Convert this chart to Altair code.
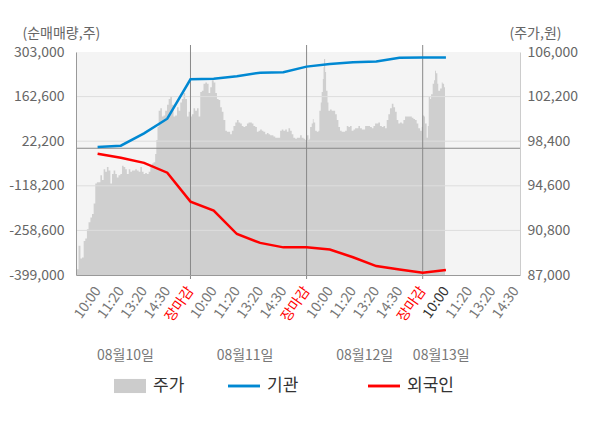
import altair as alt
import pandas as pd

FONT = "Noto Sans CJK KR"

# ---- axis labels / categories ----
tick_pos = list(range(1, 20))                      # slot index: 5 slots per trading day
tick_names = ["장마감", "10:00", "11:20", "13:20", "14:30"]   # slot % 5
current_slot = 16
day_breaks = [5, 10, 15]
date_labels = ["08월10일", "08월11일", "08월12일", "08월13일"]
date_label_pos = [2.2, 7.35, 12.5, 15.8]

left_ticks = [303000, 162600, 22200, -118200, -258600, -399000]
right_ticks = [106000, 102200, 98400, 94600, 90800, 87000]

# ---- net buying (shares) at each slot ----
flow_x = list(range(1, 17))
inst = [4000, 8000, 47000, 93000, 217000, 219000, 227000, 238000, 239000,
        257000, 265000, 271000, 273000, 285000, 286000, 286000]
foreign = [-17000, -30000, -46000, -77000, -168000, -196000, -270000, -298000,
           -312000, -312000, -319000, -343000, -371000, -382000, -392000, -383000]

# ---- stock price (won) ----
d1_x = [0.07, 0.11, 0.18, 0.26, 0.33, 0.40, 0.47, 0.54, 0.61, 0.69, 0.76, 0.83, 0.90, 0.97,
        1.04, 1.12, 1.19, 1.26, 1.33, 1.40, 1.47, 1.55, 1.62, 1.69, 1.76, 1.83, 1.90, 1.98,
        2.05, 2.12, 2.19, 2.26, 2.34, 2.41, 2.48, 2.55, 2.62, 2.69, 2.77, 2.84, 2.91, 2.98,
        3.05, 3.12, 3.20, 3.27, 3.34, 3.41, 3.48, 3.53, 3.58, 3.63, 3.70, 3.77, 3.84, 3.91, 3.99,
        4.06, 4.13, 4.20, 4.27, 4.34, 4.42, 4.49, 4.56, 4.63, 4.70, 4.77, 4.85, 4.92, 4.99]
d1_p = [87500, 87500, 89500, 88400, 88500, 89900, 90100, 90900, 91500, 91900, 92200, 93100, 94800, 94900,
        94900, 95500, 95100, 96000, 95800, 96200, 95900, 94800, 95600, 95900, 95600, 95300, 95500, 95600,
        96300, 96200, 96000, 95600, 96000, 95800, 95900, 95900, 96000, 95900, 95800, 96200, 95800, 95600,
        95700, 95600, 95800, 96300, 96500, 96600, 97300, 98500, 99600, 101000, 101200, 100500, 100600, 101000, 101500,
        102000, 102200, 101500, 100500, 100600, 101300, 101000, 101700, 102000, 102500, 102000, 100500, 100900, 101600]

d2_x = [5.02, 5.06, 5.13, 5.20, 5.28, 5.35, 5.42, 5.49, 5.56, 5.64, 5.71, 5.78, 5.85, 5.92, 6.00,
        6.07, 6.14, 6.21, 6.28, 6.35, 6.42, 6.50, 6.57, 6.64, 6.71, 6.78, 6.85, 6.93, 7.00,
        7.07, 7.14, 7.21, 7.28, 7.36, 7.43, 7.50, 7.57, 7.64, 7.71, 7.79, 7.86, 7.93, 8.00,
        8.07, 8.14, 8.22, 8.29, 8.36, 8.43, 8.50, 8.57, 8.65, 8.72, 8.79, 8.86, 8.93, 9.00,
        9.08, 9.15, 9.22, 9.29, 9.36, 9.43, 9.51, 9.58, 9.65, 9.72, 9.79, 9.87, 9.94, 9.98]
d2_p = [100500, 100700, 101200, 101000, 101200, 100500, 102600, 102700, 103300, 103400, 103300, 102500, 103000, 103600, 103400,
        102500, 102000, 101900, 101300, 100900, 100200, 99300, 99200, 99200, 99000, 99300, 99700, 100000, 100200,
        100000, 99900, 99700, 99600, 99700, 99900, 100000, 100000, 99900, 99700, 99600, 99200, 99300, 99400,
        99300, 99200, 99000, 99100, 99000, 98900, 98900, 98800, 98700, 98700, 98700, 99300, 99400, 99300,
        99400, 99200, 99500, 99300, 99000, 98700, 98600, 98700, 98700, 98900, 98700, 98600, 98500, 98600]

d3_x = [10.01, 10.08, 10.12, 10.15, 10.22, 10.27, 10.30, 10.37, 10.44, 10.51, 10.55, 10.61, 10.65,
        10.70, 10.73, 10.75, 10.80, 10.84, 10.90, 10.94, 11.01, 11.08, 11.16, 11.23, 11.30, 11.37,
        11.44, 11.51, 11.59, 11.66, 11.73, 11.80, 11.87, 11.94, 12.02, 12.09, 12.16, 12.23, 12.30,
        12.38, 12.45, 12.52, 12.59, 12.66, 12.73, 12.81, 12.88, 12.95, 13.02, 13.09, 13.16, 13.24,
        13.31, 13.38, 13.45, 13.52, 13.59, 13.67, 13.74, 13.81, 13.88, 13.95, 14.02, 14.10, 14.17,
        14.24, 14.31, 14.38, 14.46, 14.53, 14.60, 14.67, 14.74, 14.81, 14.89, 14.96]
d3_p = [98900, 98500, 98600, 99600, 99900, 100300, 100000, 99300, 99200, 99300, 101000, 101700, 102600,
        103700, 104700, 105400, 104300, 102700, 101700, 101000, 101100, 101000, 101000, 100700, 100200, 99600,
        99300, 99200, 99200, 99300, 99700, 99600, 99700, 99300, 99400, 99500, 99500, 99700, 99500,
        99400, 99400, 99700, 99700, 99700, 99600, 99500, 99700, 99900, 99900, 100000, 99700, 99600,
        99700, 99500, 100200, 100700, 101200, 101600, 101300, 100900, 100200, 99900, 100000, 99900, 100200,
        100500, 100500, 100500, 100500, 100400, 100300, 100200, 99900, 99500, 99300, 99600]

d4_x = [15.00, 15.06, 15.10, 15.17, 15.22, 15.26, 15.32, 15.36, 15.43, 15.49, 15.53, 15.57, 15.63,
        15.67, 15.75, 15.82, 15.86, 15.92, 15.96]
d4_p = [100600, 100500, 99900, 98700, 99700, 102200, 102000, 102400, 103300, 103600, 104400, 104200, 103300,
        102700, 102900, 103400, 103300, 103000, 102700]

legend_names = ["주가", "기관"]
legend_colors = ["#cccccc", "#0088d2"]
legend_shapes = ["M-1,-0.44H1V0.44H-1Z", "M-1,-0.09H1V0.09H-1Z"]
legend2_names = ["외국인"]
legend2_colors = ["#ff0000"]
line_symbol = "M-1,-0.09H1V0.09H-1Z"

# ---- tables ----
px, pp = [], []
for xs, ps in [(d1_x, d1_p), (d2_x, d2_p), (d3_x, d3_p), (d4_x, d4_p)]:
    for a, b in zip(xs, ps):
        px.append(a)
        pp.append(b)
price_df = pd.DataFrame({"u": px, "price": pp})
price_df["base"] = right_ticks[-1]
flow_df = pd.DataFrame({"u": flow_x, "inst": inst, "foreign": foreign})
grid_df = pd.DataFrame({"v": left_ticks[1:-1]})
zero_df = pd.DataFrame({"v": [0]})
break_df = pd.DataFrame({"u": day_breaks})
date_df = pd.DataFrame({"u": date_label_pos, "label": date_labels})
legend_df = pd.DataFrame({"series": legend_names})
legend2_df = pd.DataFrame({"series2": legend2_names})

x_scale = alt.Scale(domain=[0.07, 19.19], nice=False, zero=False)
yl_scale = alt.Scale(domain=[left_ticks[-1], left_ticks[0]], nice=False, zero=False)
yr_scale = alt.Scale(domain=[right_ticks[-1], right_ticks[0]], nice=False, zero=False)

label_expr = "[" + ",".join("'%s'" % t for t in tick_names) + "][datum.value % 5]"
num_expr = "replace(format(datum.value, ','), '\u2212', '-')"

x_axis = alt.Axis(
    values=tick_pos, labelExpr=label_expr, labelAngle=305, labelAlign="right",
    labelBaseline="middle", labelFontSize=14, labelOverlap=False, labelPadding=13,
    ticks=False, grid=False, title=None, domainColor="#999999", zindex=1,
    labelColor={"condition": {"test": "datum.value % 5 == 0", "value": "#ff0000"},
                "expr": "datum.value == %d ? '#333333' : '#777777'" % current_slot},
)

area = alt.Chart(price_df).mark_area(color="#cfcfcf", interpolate="step-after").encode(
    x=alt.X("u:Q", scale=x_scale, axis=x_axis),
    y=alt.Y("price:Q", scale=yr_scale, axis=alt.Axis(
        orient="right", values=right_ticks, labelExpr=num_expr,
        grid=False, ticks=False,
        labelPadding=7, labelFontSize=14, labelColor="#666666", domainColor="#cccccc",
        zindex=1, title="(주가,원)", titleAngle=0, titleX=-11, titleY=-19,
        titleAlign="left", titleBaseline="middle", titleFontSize=14,
        titleFontWeight="normal", titleColor="#666666")),
    y2="base:Q",
)

left_axis = alt.Axis(
    orient="left", values=left_ticks, labelExpr=num_expr,
    grid=False, ticks=False,
    labelPadding=12, labelFontSize=14, labelColor="#666666", domainColor="#999999",
    zindex=1, title="(순매매량,주)", titleAngle=0, titleX=-54, titleY=-19,
    titleAlign="left", titleBaseline="middle", titleFontSize=14,
    titleFontWeight="normal", titleColor="#666666")

grid = alt.Chart(grid_df).mark_rule(color="#dddddd", strokeWidth=1).encode(
    y=alt.Y("v:Q", scale=yl_scale, axis=left_axis))
zero = alt.Chart(zero_df).mark_rule(color="#888888", strokeWidth=1).encode(
    y=alt.Y("v:Q", scale=yl_scale, axis=left_axis))
breaks = alt.Chart(break_df).mark_rule(color="#888888", strokeWidth=1).encode(
    x=alt.X("u:Q", scale=x_scale, axis=x_axis), y=alt.value(-7), y2=alt.value(227))

line_inst = alt.Chart(flow_df).mark_line(color="#0088d2", strokeWidth=2.5).encode(
    x=alt.X("u:Q", scale=x_scale, axis=x_axis),
    y=alt.Y("inst:Q", scale=yl_scale, axis=left_axis))
line_for = alt.Chart(flow_df).mark_line(color="#ff0000", strokeWidth=2.5).encode(
    x=alt.X("u:Q", scale=x_scale, axis=x_axis),
    y=alt.Y("foreign:Q", scale=yl_scale, axis=left_axis))

dates = alt.Chart(date_df).mark_text(fontSize=14, color="#777777", baseline="middle").encode(
    x=alt.X("u:Q", scale=x_scale, axis=x_axis), y=alt.value(304), text="label:N")

leg_common = dict(orient="none", legendY=318, direction="horizontal", title=None,
                  labelFontSize=17, labelColor="#333333", labelOffset=7,
                  symbolSize=1024, symbolStrokeWidth=0, padding=0)
leg = alt.Legend(legendX=38, columns=2, columnPadding=43, **leg_common)
leg2 = alt.Legend(legendX=292, columns=1, symbolType=line_symbol, **leg_common)

legend_pts = alt.Chart(legend_df).mark_point(filled=True, size=1024, opacity=1).encode(
    x=alt.value(0), y=alt.value(0),
    color=alt.Color("series:N", scale=alt.Scale(domain=legend_names, range=legend_colors), legend=leg),
    shape=alt.Shape("series:N", scale=alt.Scale(domain=legend_names, range=legend_shapes), legend=leg),
).transform_filter("false")

legend2_pts = alt.Chart(legend2_df).mark_point(filled=True, size=1024, opacity=1, shape=line_symbol).encode(
    x=alt.value(0), y=alt.value(0),
    fill=alt.Fill("series2:N", scale=alt.Scale(domain=legend2_names, range=legend2_colors), legend=leg2),
).transform_filter("false")

inner = alt.layer(grid, zero, breaks, line_inst, line_for, dates, legend_pts, legend2_pts)

chart = alt.layer(area, inner).resolve_scale(y="independent").properties(
    width=444, height=223,
    padding={"left": 68, "top": 44, "right": 72, "bottom": 145},
    autosize=alt.AutoSizeParams(type="none"),
).configure(font=FONT).configure_view(fill="#f4f4f4", strokeWidth=0)

chart.save("out.html", embed_options={"renderer": "svg", "actions": False})
